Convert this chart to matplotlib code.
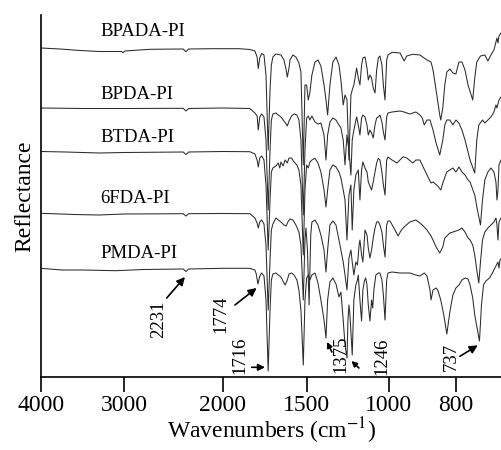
import numpy as np
import matplotlib.pyplot as plt

plt.rcParams['font.family'] = ['Liberation Serif', 'DejaVu Serif']
plt.rcParams['mathtext.fontset'] = 'stix'

# spectra: (wavenumber in cm-1, reflectance in a.u. incl. stacking offset)
bpada = [(4000, 329), (3770, 328), (3530, 326.5), (3300, 325.5), (3030, 325.5), (3012, 324.3),
         (2990, 326), (2737, 327.7), (2400, 328), (2372, 325.3), (2345, 328), (2100, 328.3),
         (1900, 328.3), (1838, 327.5), (1808, 326), (1795, 320), (1788, 308.5), (1779, 319),
         (1768, 323.5), (1754, 322), (1742, 302), (1729, 227), (1718, 287), (1710, 312),
         (1701, 320), (1683, 323), (1653, 322), (1635, 317), (1622, 307), (1615, 300),
         (1605, 309), (1599, 317), (1582, 322), (1564, 320), (1546, 314), (1534, 305),
         (1520, 212), (1510, 292), (1500, 292), (1490, 277), (1480, 285), (1468, 302),
         (1449, 315), (1431, 317), (1413, 311), (1394, 292), (1382, 277), (1372, 262),
         (1358, 292), (1340, 315), (1321, 320), (1303, 312), (1291, 297), (1277, 272),
         (1266, 282), (1254, 277), (1242, 217), (1230, 282), (1222, 287), (1212, 292),
         (1195, 309), (1185, 299), (1175, 292), (1165, 312), (1157, 319), (1144, 320),
         (1132, 309), (1124, 297), (1114, 302), (1104, 299), (1094, 289), (1083, 284),
         (1073, 307), (1063, 319), (1053, 321), (1041, 312), (1032, 292), (1022, 277),
         (1012, 317), (1004, 322), (990, 324.7), (966, 324), (954, 316), (946, 321),
         (928, 322.7), (907, 322), (886, 317), (874, 315), (868, 307), (859, 287),
         (848, 262), (845, 257), (839, 269), (833, 292), (827, 305), (818, 308), (809, 304),
         (800, 303), (791, 315), (782, 315), (773, 307), (764, 292), (750, 277), (744, 299),
         (738, 315), (727, 321), (714, 322), (705, 316), (696, 322), (687, 327), (678, 339),
         (675, 334), (672, 341), (666, 344)]

bpda = [(4000, 269), (3500, 268.5), (3000, 268.5), (2400, 268.7), (2372, 266), (2345, 268.5),
        (2000, 269), (1838, 268.5), (1808, 264), (1795, 261), (1788, 247), (1779, 260),
        (1768, 263), (1754, 260), (1742, 237), (1729, 167), (1718, 227), (1710, 257),
        (1701, 263), (1683, 264), (1669, 262), (1653, 260), (1635, 256), (1622, 253),
        (1615, 251), (1605, 256), (1590, 261), (1575, 263), (1558, 262), (1546, 257),
        (1534, 237), (1520, 162), (1510, 227), (1500, 259), (1490, 261), (1480, 257),
        (1468, 261), (1449, 255), (1431, 253), (1413, 254), (1394, 242), (1382, 217),
        (1372, 242), (1358, 255), (1340, 259), (1321, 257), (1303, 252), (1291, 249),
        (1277, 237), (1266, 212), (1254, 242), (1242, 227), (1230, 202), (1222, 237),
        (1212, 247), (1195, 260), (1185, 252), (1175, 242), (1165, 259), (1157, 262),
        (1144, 260), (1132, 252), (1124, 242), (1114, 247), (1104, 244), (1094, 239),
        (1083, 252), (1073, 259), (1063, 260), (1053, 262), (1041, 255), (1032, 245),
        (1022, 237), (1012, 260), (1004, 264), (990, 265), (966, 266), (954, 265), (937, 263),
        (919, 265), (907, 262), (900, 259), (894, 252), (886, 257), (877, 257), (868, 247),
        (859, 234), (848, 222), (839, 237), (833, 252), (827, 257), (818, 257), (809, 252),
        (800, 257), (791, 254), (782, 247), (773, 237), (758, 217), (744, 204), (738, 237),
        (732, 252), (721, 257), (714, 254), (705, 257), (696, 260), (687, 265), (681, 272),
        (678, 269), (672, 277), (666, 280)]

btda = [(4000, 225.5), (3700, 225), (3300, 224), (3000, 224.5), (2400, 225), (2372, 222.5),
        (2345, 225), (2000, 225.5), (1838, 225.3), (1808, 223), (1795, 217), (1788, 210),
        (1779, 219), (1768, 221), (1754, 217), (1742, 192), (1729, 127), (1718, 177),
        (1710, 205), (1701, 209), (1683, 211), (1669, 214), (1660, 209), (1653, 215),
        (1640, 211), (1628, 217), (1615, 214), (1605, 219), (1590, 219), (1575, 215),
        (1558, 212), (1546, 207), (1534, 192), (1520, 122), (1510, 187), (1500, 212),
        (1490, 209), (1480, 215), (1468, 217), (1449, 218.7), (1431, 214), (1413, 205),
        (1394, 187), (1382, 170), (1372, 187), (1358, 207), (1340, 212), (1321, 210),
        (1303, 205), (1291, 199), (1277, 187), (1266, 177), (1254, 137), (1242, 182),
        (1230, 192), (1222, 147), (1212, 187), (1200, 202), (1185, 207), (1175, 177),
        (1165, 207), (1157, 215), (1144, 209), (1132, 205), (1124, 195), (1114, 191),
        (1104, 187), (1094, 195), (1083, 205), (1073, 214), (1063, 218.7), (1053, 217),
        (1041, 205), (1032, 192), (1022, 182), (1012, 217), (1004, 220), (990, 217),
        (975, 214), (957, 220.3), (946, 219), (928, 214), (919, 217), (907, 217), (900, 212),
        (886, 202), (874, 194), (868, 195), (854, 191), (845, 187), (839, 194), (827, 205),
        (818, 207), (809, 209), (800, 205), (791, 210), (782, 205), (773, 202), (764, 197),
        (758, 195), (744, 182), (736, 167), (727, 152), (721, 177), (714, 197), (705, 205),
        (696, 209), (687, 205), (681, 195), (678, 177), (675, 187), (672, 212), (666, 217)]

fda6 = [(4000, 163.7), (3600, 162.5), (3300, 162), (3000, 163), (2400, 163.3), (2372, 161),
        (2345, 163.3), (2000, 163.5), (1838, 163.3), (1808, 159), (1795, 154), (1788, 149),
        (1779, 155), (1768, 157), (1754, 153), (1742, 132), (1729, 67), (1718, 117),
        (1710, 147), (1701, 153), (1683, 159), (1669, 157), (1653, 155), (1635, 152),
        (1622, 151), (1612, 155), (1599, 158), (1582, 157), (1564, 152), (1546, 145),
        (1534, 132), (1520, 77), (1510, 137), (1504, 149), (1495, 127), (1485, 72),
        (1475, 142), (1468, 155), (1449, 157), (1431, 152), (1413, 142), (1394, 127),
        (1382, 105), (1372, 127), (1358, 152), (1340, 156), (1321, 152), (1303, 137),
        (1291, 127), (1277, 115), (1266, 102), (1254, 87), (1242, 119), (1230, 127),
        (1222, 115), (1212, 102), (1200, 115), (1190, 112), (1180, 132), (1175, 137),
        (1165, 122), (1157, 115), (1144, 147), (1132, 142), (1124, 129), (1114, 119),
        (1104, 127), (1094, 139), (1083, 149), (1073, 155), (1063, 155.3), (1053, 152),
        (1041, 145), (1032, 132), (1022, 120), (1012, 152), (1004, 156), (996, 156),
        (981, 147), (972, 141), (962, 147), (954, 150), (937, 155), (919, 157), (907, 154),
        (894, 150), (886, 147), (874, 141), (868, 137), (859, 130), (848, 124), (839, 130),
        (833, 139), (818, 144), (800, 146), (791, 147), (782, 149), (773, 145), (764, 139),
        (758, 137), (750, 132), (744, 122), (738, 107), (732, 94), (727, 115), (721, 137),
        (714, 145), (705, 149), (696, 152), (687, 155), (681, 159), (678, 152), (675, 137),
        (672, 155), (666, 159)]

pmda = [(4000, 108.7), (3750, 107), (3500, 107), (3100, 106.3), (2800, 107.5), (2400, 108),
        (2372, 105.5), (2345, 108), (2000, 108.7), (1838, 108.7), (1808, 107), (1800, 103),
        (1790, 93), (1779, 101), (1768, 104), (1754, 101), (1742, 77), (1729, 6), (1718, 67),
        (1710, 97), (1701, 103), (1683, 104), (1669, 102), (1653, 100), (1635, 94),
        (1628, 92), (1615, 97), (1605, 103), (1590, 104), (1575, 102), (1558, 97), (1546, 87),
        (1534, 67), (1520, 12), (1510, 77), (1500, 99), (1490, 102), (1480, 97), (1468, 102),
        (1449, 104), (1431, 94), (1413, 77), (1394, 57), (1382, 39), (1372, 77), (1358, 95),
        (1340, 99), (1321, 93), (1303, 80), (1291, 85), (1277, 57), (1266, 32), (1254, 19),
        (1248, 57), (1242, 72), (1236, 62), (1222, 22), (1212, 77), (1200, 92), (1190, 97),
        (1185, 102), (1175, 77), (1165, 56), (1157, 87), (1148, 96), (1140, 99), (1132, 92),
        (1124, 72), (1114, 56), (1104, 77), (1097, 69), (1090, 87), (1078, 102), (1063, 104),
        (1053, 104), (1041, 97), (1032, 82), (1022, 57), (1012, 97), (1004, 104), (990, 105),
        (966, 104), (937, 104), (919, 102), (907, 101), (894, 104), (886, 101), (877, 87),
        (874, 77), (868, 87), (859, 89), (854, 87), (845, 77), (836, 62), (827, 43), (818, 65),
        (809, 82), (800, 89), (791, 92), (782, 97), (773, 99), (764, 98), (758, 92), (750, 79),
        (744, 62), (730, 36), (724, 72), (718, 92), (711, 96), (700, 99), (690, 105), (681, 111),
        (675, 115), (672, 109), (669, 117), (664, 119)]

spectra = [bpada, bpda, btda, fda6, pmda]
names = ['BPADA-PI', 'BPDA-PI', 'BTDA-PI', '6FDA-PI', 'PMDA-PI']
name_y = [346, 283, 239.5, 179, 123.7]

# marked bands: label, label position, arrow tail, arrow tip
band_labels = ['2231', '1774', '1716', '1375', '1246', '737']
band_text_xy = [(2652, 58), (2019, 63), (1897, 22), (1291, 23), (1043, 21), (815, 20.5)]
band_arrows = [((2567, 79), (2382, 100)), ((1927, 72), (1798, 89)),
               ((1827, 9.7), (1748, 9.7)), ((1346, 25), (1376, 35)),
               ((1181, 9), (1227, 16)), ((788, 20.7), (735, 31.7))]
head_size = [12, 12, 10, 8, 8, 12]

# the wavenumber axis of the original is piecewise linear between its ticks
axis_wn = [0, 800, 1000, 1500, 2000, 3000, 4000, 10000]
axis_pos = [-725.2, -456, -388.7, -306.7, -222.7, -124, -41, 457]


def fwd(x):
    return np.interp(x, axis_wn, axis_pos)


def inv(y):
    return np.interp(y, axis_pos, axis_wn)


fig = plt.figure(figsize=(5.02, 4.5), dpi=100)
ax = fig.add_axes([41 / 502, 73 / 450, 461 / 502, 362 / 450])
ax.set_xscale('function', functions=(fwd, inv))

for spec in spectra:
    wn, val = zip(*spec)
    ax.plot(wn, val, color='#2b2b2b', lw=0.75)

for name, y in zip(names, name_y):
    ax.text(3280, y, name, fontsize=13.5, ha='left', va='center')

for lab, (tx, ty), (tail, tip), hs in zip(band_labels, band_text_xy, band_arrows, head_size):
    ax.text(tx, ty, lab, fontsize=13.5, rotation=90, ha='center', va='center')
    ax.annotate('', xy=tip, xytext=tail,
                arrowprops=dict(arrowstyle='-|>', color='black', lw=1.2,
                                mutation_scale=hs, shrinkA=0, shrinkB=0))

ax.set_xlim(4000, 663)
ax.set_ylim(0, 362)
ax.set_xticks([4000, 3000, 2000, 1500, 1000, 800])
ax.set_xticklabels(['4000', '3000', '2000', '1500', '1000', '800'])
ax.minorticks_off()
ax.set_yticks([])
ax.tick_params(axis='x', direction='out', length=11, width=1.2, labelsize=17, pad=2)
for s in ['top', 'right']:
    ax.spines[s].set_visible(False)
for s in ['left', 'bottom']:
    ax.spines[s].set_linewidth(1.2)
ax.set_xlabel('Wavenumbers (cm$^{-1}$)', fontsize=17, labelpad=0)
ax.set_ylabel('Reflectance', fontsize=17, labelpad=4)

fig.savefig('out.png', dpi=100)
